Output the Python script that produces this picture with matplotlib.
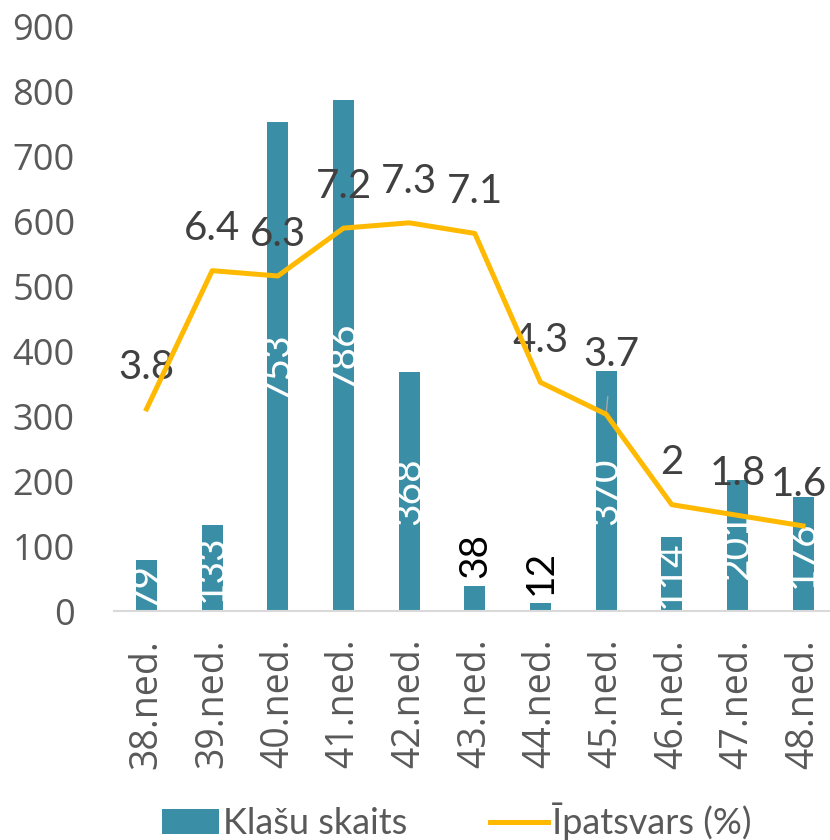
import matplotlib.pyplot as plt
import numpy as np

weeks = ["38.ned.", "39.ned.", "40.ned.", "41.ned.", "42.ned.", "43.ned.",
         "44.ned.", "45.ned.", "46.ned.", "47.ned.", "48.ned."]
klases = [79, 133, 753, 786, 368, 38, 12, 370, 114, 201, 176]
ipatsvars = [3.8, 6.4, 6.3, 7.2, 7.3, 7.1, 4.3, 3.7, 2, 1.8, 1.6]

bar_col = "#3A8FA6"
line_col = "#FFB900"

fig = plt.figure(figsize=(8.3, 8.4), dpi=100)
ax = fig.add_axes([0.137, 0.2726, 0.863, 0.6964])
x = np.arange(len(weeks))

bars = ax.bar(x, klases, width=0.32, color=bar_col, label="Klašu skaits", zorder=2)
ax.set_ylim(0, 900)
ax.set_xlim(-0.5, 10.41)
ax.set_yticks(range(0, 901, 100))
ax.set_xticks(x)
ax.set_xticklabels(weeks, rotation=90, family="Open Sans", fontsize=27, color="#595959")
for t in ax.get_yticklabels():
    t.set_family("Open Sans")
    t.set_fontsize(26)
    t.set_color("#595959")
ax.tick_params(axis="both", length=0)
ax.tick_params(axis="y", pad=28)
ax.tick_params(axis="x", pad=20)
for s in ["top", "right", "left"]:
    ax.spines[s].set_visible(False)
ax.spines["bottom"].set_color("#D9D9D9")
ax.spines["bottom"].set_linewidth(1.5)

# bar value labels
for xi, v in zip(x, klases):
    if v < 60:
        ax.annotate(str(v), (xi, v), xytext=(0, 6), textcoords="offset points",
                    rotation=90, ha="center", va="bottom", fontsize=28,
                    family="Lato", color="black", zorder=3)
    else:
        ax.text(xi, v / 2, str(v), rotation=90, ha="center", va="center",
                fontsize=28, family="Lato", color="white", zorder=3)

ax2 = ax.twinx()
ax2.set_ylim(0, 11)
ax2.axis("off")
ln, = ax2.plot(x, ipatsvars, color=line_col, lw=3.6, label="Īpatsvars (%)",
               solid_joinstyle="round", zorder=4)

for xi, v in zip(x, ipatsvars):
    lbl = f"{v:g}"
    if xi == 7:
        ax2.annotate(lbl, (xi, v), xytext=(4, 43), textcoords="offset points",
                     ha="center", va="center", fontsize=29, family="Lato",
                     color="#404040",
                     arrowprops=dict(arrowstyle="-", color="#A6A6A6", lw=1,
                                     shrinkA=15, shrinkB=0))
    else:
        dx = -3 if xi == 10 else 0
        ax2.annotate(lbl, (xi, v), xytext=(dx, 30), textcoords="offset points",
                     ha="center", va="center", fontsize=29, family="Lato",
                     color="#404040")

fig.legend(handles=[bars, ln], loc="center", bbox_to_anchor=(0.55, 0.022),
           ncol=2, frameon=False, prop={"family": "Lato", "size": 26},
           labelcolor="#595959", handlelength=1.6, handletextpad=0.1,
           columnspacing=2.3)

fig.savefig("out.png", dpi=100)
